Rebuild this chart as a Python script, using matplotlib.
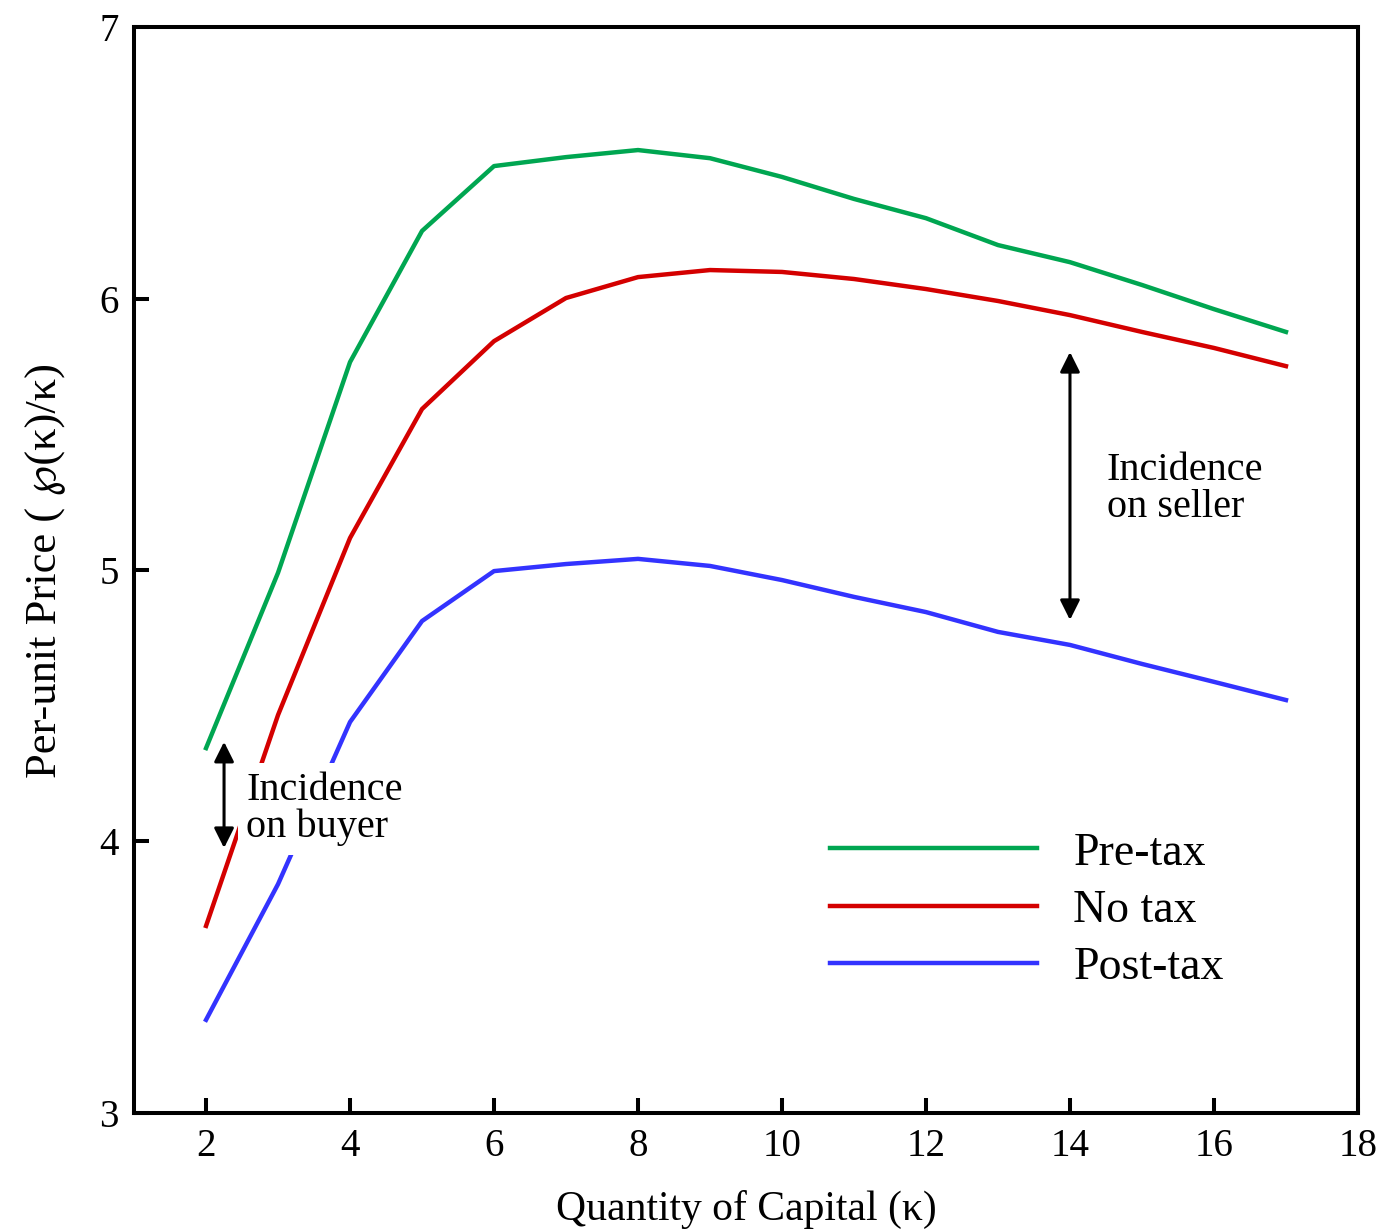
import matplotlib
matplotlib.use("Agg")
import matplotlib.pyplot as plt

plt.rcParams['font.family'] = ['Liberation Serif', 'DejaVu Serif', 'DejaVu Sans']

# data
capital = [2, 3, 4, 5, 6, 7, 8, 9, 10, 11, 12, 13, 14, 15, 16, 17]
pre_tax = [4.344, 4.99, 5.766, 6.249, 6.488, 6.521, 6.547, 6.517, 6.448, 6.367,
           6.296, 6.197, 6.134, 6.05, 5.961, 5.877]
no_tax = [3.689, 4.466, 5.118, 5.593, 5.843, 6.002, 6.079, 6.105, 6.098, 6.072,
          6.035, 5.991, 5.939, 5.877, 5.818, 5.751]
post_tax = [3.343, 3.843, 4.44, 4.812, 4.996, 5.022, 5.041, 5.015, 4.963, 4.901,
            4.845, 4.772, 4.724, 4.654, 4.588, 4.521]
labels = ["Pre-tax", "No tax", "Post-tax"]
colors = ["#00a651", "#d40000", "#3333ff"]

fig = plt.figure(figsize=(13.82, 12.31), dpi=100)
ax = fig.add_axes([0.097, 0.0959, 0.8856, 0.8821])

for ys, lab, col in zip([pre_tax, no_tax, post_tax], labels, colors):
    ax.plot(capital, ys, color=col, lw=3.2, label=lab, zorder=2)

ax.set_xlim(1, 18)
ax.set_ylim(3, 7)
ax.set_xticks([2, 4, 6, 8, 10, 12, 14, 16, 18])
ax.set_yticks([3, 4, 5, 6, 7])

for s in ax.spines.values():
    s.set_linewidth(2.9)
ax.tick_params(direction='in', length=11, width=2.9, labelsize=28)
ax.tick_params(axis='y', pad=11)
ax.tick_params(axis='x', pad=11)

ax.set_xlabel("Quantity of Capital (κ)", fontsize=30, labelpad=18)
ax.set_ylabel("Per-unit Price ( ℘(κ)/κ)", fontsize=32, labelpad=24)

# incidence arrows
ax.annotate("", xy=(14.0, 4.816), xytext=(14.0, 5.803),
            arrowprops=dict(arrowstyle='<|-|>', color='black', lw=2.2,
                            mutation_scale=30, shrinkA=0, shrinkB=0))
ax.text(14.51, 5.30, "Incidence\non seller", fontsize=29, va='center', ha='left',
        linespacing=1.0)

ax.annotate("", xy=(2.25, 3.976), xytext=(2.25, 4.367),
            arrowprops=dict(arrowstyle='<|-|>', color='black', lw=2.2,
                            mutation_scale=30, shrinkA=0, shrinkB=0), zorder=4)
ax.text(2.556, 4.12, "Incidence\non buyer", fontsize=29, va='center', ha='left',
        linespacing=1.0, zorder=3,
        bbox=dict(facecolor='white', edgecolor='none', pad=6))

ax.legend(loc='center left', bbox_to_anchor=(0.569, 0.1865), frameon=False,
          fontsize=33, handlelength=4.5, handletextpad=0.8, labelspacing=0.32,
          borderpad=0, borderaxespad=0)

fig.savefig("out.png", dpi=100)
